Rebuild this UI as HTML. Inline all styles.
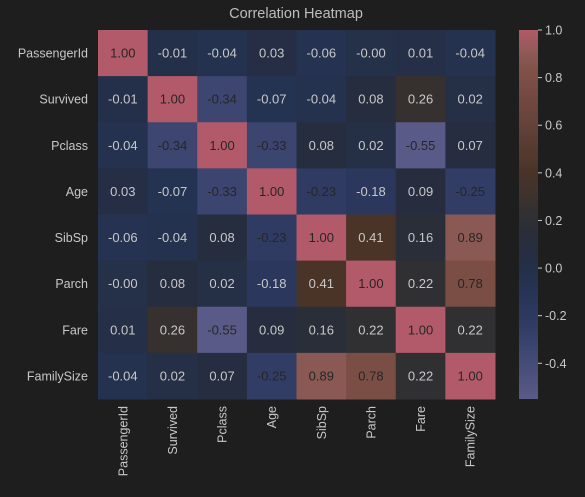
<!DOCTYPE html>
<html><head><meta charset="utf-8"><style>
body{margin:0;background:#1e1e1e;}
svg{display:block;font-family:"Liberation Sans",sans-serif;}
</style></head><body>
<svg id="c" width="585" height="497">
<rect width="585" height="497" fill="#1e1e1e"/>
<text x="296" y="18" text-anchor="middle" font-size="14.5" fill="#bdbdbd">Correlation Heatmap</text>
<defs><linearGradient id="g" x1="0" y1="1" x2="0" y2="0"></linearGradient></defs>
</svg>
<script>
const labels=["PassengerId","Survived","Pclass","Age","SibSp","Parch","Fare","FamilySize"];
const row0=[1.00,-0.01,-0.04,0.03,-0.06,-0.0,0.01,-0.04];
const row1=[-0.01,1.00,-0.34,-0.07,-0.04,0.08,0.26,0.02];
const row2=[-0.04,-0.34,1.00,-0.33,0.08,0.02,-0.55,0.07];
const row3=[0.03,-0.07,-0.33,1.00,-0.23,-0.18,0.09,-0.25];
const row4=[-0.06,-0.04,0.08,-0.23,1.00,0.41,0.16,0.89];
const row5=[-0.0,0.08,0.02,-0.18,0.41,1.00,0.22,0.78];
const row6=[0.01,0.26,-0.55,0.09,0.16,0.22,1.00,0.22];
const row7=[-0.04,0.02,0.07,-0.25,0.89,0.78,0.22,1.00];
const matrix=[row0,row1,row2,row3,row4,row5,row6,row7];
const cbTicks=[1.0,0.8,0.6,0.4,0.2,0.0,-0.2,-0.4];
const vmin=-0.55,vmax=1.0;
const stops=[[-0.55,[90,90,136]],[-0.34,[60,70,112]],[-0.2,[45,56,96]],[-0.05,[36,50,80]],[0.05,[37,45,66]],[0.16,[42,46,56]],[0.24,[50,48,48]],[0.3,[62,50,46]],[0.41,[74,52,40]],[0.6,[100,66,58]],[0.8,[124,78,70]],[0.9,[140,90,84]],[1.0,[179,90,106]]];
function color(v){v=Math.max(vmin,Math.min(vmax,v));for(let i=0;i<stops.length-1;i++){const a=stops[i],b=stops[i+1];if(v<=b[0]){const t=(v-a[0])/(b[0]-a[0]);const c=a[1].map((x,k)=>Math.round(x+(b[1][k]-x)*t));return `rgb(${c.join(',')})`;}}return 'rgb(179,90,106)';}
function fmt(v){const s=Math.abs(v).toFixed(2);return (v<0||Object.is(v,-0))?'-'+s:s;}
const X0=98,X1=495,Y0=30,Y1=399,n=labels.length;
const cw=(X1-X0)/n,ch=(Y1-Y0)/n;
const xs=i=>X0+i*cw, ys=j=>Y0+j*ch;
const svg=document.getElementById('c');const NS='http://www.w3.org/2000/svg';
function mk(t,a){const e=document.createElementNS(NS,t);for(const k in a)e.setAttribute(k,a[k]);svg.appendChild(e);return e;}
matrix.forEach((row,j)=>row.forEach((v,i)=>{
 const r=mk('rect',{x:xs(i),y:ys(j),width:cw+0.5,height:ch+0.5,fill:color(v)});
 
 
 const t=mk('text',{x:xs(i)+cw/2,y:ys(j)+ch/2+4.5,'text-anchor':'middle','font-size':'13',fill:(v>=0.6||v<=-0.2)?'#262626':'#c8c8c8'});
 t.textContent=fmt(v);
 
 
}));
labels.forEach((l,j)=>{
 const t=mk('text',{x:88,y:ys(j)+ch/2+4.5,'text-anchor':'end','font-size':'12.5',fill:'#c8c8c8'});t.textContent=l;
 
 
 const cx=xs(j)+cw/2+4.5;
 const u=mk('text',{x:cx,y:406,'text-anchor':'end','font-size':'12.5',fill:'#c8c8c8',transform:`rotate(-90 ${cx} 406)`});u.textContent=l;
 
 
});
const g=document.getElementById('g');
for(let k=0;k<=40;k++){const v=vmin+(vmax-vmin)*k/40;const s=document.createElementNS(NS,'stop');s.setAttribute('offset',k/40);s.setAttribute('stop-color',color(v));g.appendChild(s);}
const cb=mk('rect',{x:519,y:Y0,width:19,height:Y1-Y0,fill:'url(#g)'});


const cy=v=>Y1-(v-vmin)/(vmax-vmin)*(Y1-Y0);
cbTicks.forEach(v=>{
 const y=cy(v);
 const l=mk('line',{x1:538,x2:542,y1:y,y2:y,stroke:'#c8c8c8'});
 
 
 const t=mk('text',{x:545,y:y+4.5,'font-size':'12.5',fill:'#c8c8c8'});t.textContent=v.toFixed(1);
 
 
});
</script>
</body></html>
